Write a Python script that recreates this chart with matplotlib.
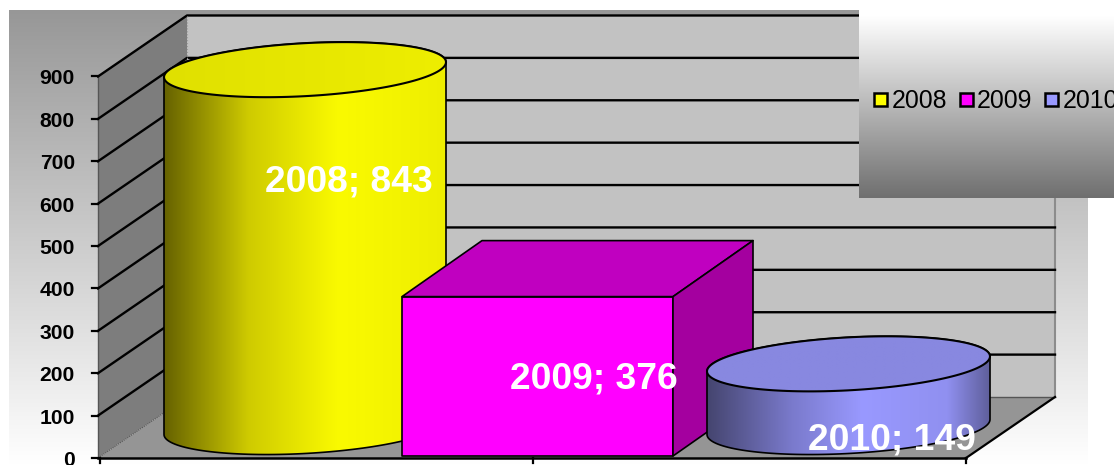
import numpy as np
from matplotlib import pyplot as plt
from matplotlib.colors import LinearSegmentedColormap
from matplotlib.patches import Polygon, Rectangle

years = ['2008', '2009', '2010']
values = [843, 376, 149]
y_ticks = [0, 100, 200, 300, 400, 500, 600, 700, 800, 900]

W, H = 1114, 465
Y0_PX = 458       # pixel row of value 0
PX_PER_UNIT = 0.4239

plt.rcParams['font.family'] = ['Liberation Sans', 'DejaVu Sans']

fig = plt.figure(figsize=(W / 100, H / 100), dpi=100, facecolor='white')
ax = fig.add_axes([0, 0, 1, 1])
ax.axis('off')


def units(px):
    return px / PX_PER_UNIT


def val(py):
    # pixel row -> value, for things placed relative to the picture
    return (Y0_PX - py) / PX_PER_UNIT


def gradient(colors, stops, extent, clip=None, vertical=False, z=1):
    cmap = LinearSegmentedColormap.from_list('g', list(zip(stops, colors)))
    ramp = np.linspace(0, 1, 256)
    ramp = ramp[:, None] if vertical else ramp[None, :]
    im = ax.imshow(ramp, cmap=cmap, vmin=0, vmax=1, extent=extent, aspect='auto',
                   origin='upper' if vertical else 'lower', zorder=z, interpolation='bilinear')
    if clip is not None:
        im.set_clip_path(clip)
    return im


def poly(points, face, edge='none', lw=0.0, z=2):
    p = Polygon(points, closed=True, facecolor=face, edgecolor=edge, linewidth=lw, zorder=z, joinstyle='round')
    ax.add_patch(p)
    return p


def ring(cx, cy, a, b, s, t):
    # sheared ellipse, right end sits higher than the left end
    return cx + a * np.cos(t), cy + units(b) * np.sin(t) + units(s) * np.cos(t)


def cylinder(left, right, base, value, body_colors, body_stops, top_colors, z):
    cx = (left + right) / 2
    a = (right - left) / 2
    b, s = 26.5, 7.5
    low = np.linspace(np.pi, 2 * np.pi, 80)
    up = np.linspace(0, np.pi, 80)
    x1, y1 = ring(cx, base, a, b, s, low)
    x2, y2 = ring(cx, base + value, a, b, s, up)
    body = np.r_[np.c_[x1, y1], np.c_[x2, y2]]
    shape = poly(body, 'none', z=z)
    gradient(body_colors, body_stops, (left, right, base - units(40), base + value + units(40)), clip=shape, z=z)
    poly(body, 'none', edge='black', lw=1.2, z=z + 0.1)
    t = np.linspace(0, 2 * np.pi, 160)
    x3, y3 = ring(cx, base + value, a, b, s, t)
    cap = np.c_[x3, y3]
    shape = poly(cap, 'none', z=z + 0.2)
    gradient(top_colors, [0, 1], (left, right, base + value - units(40), base + value + units(40)), clip=shape, z=z + 0.2)
    poly(cap, 'none', edge='black', lw=1.5, z=z + 0.3)


# chart area background
bg = Rectangle((9, val(465)), 1079, units(455), facecolor='none', edgecolor='none')
ax.add_patch(bg)
gradient(['#979797', '#ffffff'], [0, 1], (9, 1088, val(465), val(10)), clip=bg, vertical=True, z=0)

# walls and floor
LEFT, RIGHT = 98, 966
DX, DY = 89, units(61)
top = max(y_ticks)
poly([(LEFT, 0), (LEFT + DX, DY), (RIGHT + DX, DY), (RIGHT, 0)], '#959595', z=1)
poly([(LEFT + DX, DY), (LEFT + DX, top + DY), (RIGHT + DX, top + DY), (RIGHT + DX, DY)], '#c2c2c2', z=1)
poly([(LEFT, 0), (LEFT, top), (LEFT + DX, top + DY), (LEFT + DX, DY)], '#7d7d7d', z=1)
ax.plot([LEFT, LEFT], [0, top], color='#555555', lw=1.0, zorder=1.2)
ax.plot([LEFT, LEFT + DX], [top, top + DY], color='#555555', lw=0.9, ls=(0, (1, 1)), zorder=1.2)
ax.plot([LEFT, LEFT + DX], [0, DY], color='#555555', lw=0.8, ls=(0, (1, 1)), zorder=1.2)
ax.plot([RIGHT + DX, RIGHT + DX], [DY, top + DY], color='#8c8c8c', lw=1.5, zorder=1.2)
ax.plot([LEFT + DX, RIGHT + DX], [DY, DY], color='#555555', lw=1.0, zorder=1.2)
ax.plot([RIGHT + DX, RIGHT], [DY, 0], color='black', lw=1.6, zorder=1.2)
for v in y_ticks[1:]:
    ax.plot([LEFT, LEFT + DX, RIGHT + DX], [v, v + DY, v + DY], color='black', lw=1.7, zorder=1.3)
ax.plot([LEFT + DX, LEFT + DX], [DY, top + DY], color='#9a9a9a', lw=0.8, ls=':', zorder=1.3)

# axis lines, ticks
ax.plot([LEFT, RIGHT], [0, 0], color='black', lw=1.8, zorder=5)
for x in [LEFT + 2, (LEFT + RIGHT) / 2 + 0.5, RIGHT]:
    ax.plot([x, x], [0, val(463)], color='black', lw=1.6, zorder=5)
for v in y_ticks:
    ax.plot([LEFT - 6, LEFT], [v, v], color='black', lw=1.6, zorder=5)
    ax.text(75, v - units(2.5), str(v), ha='right', va='center', fontsize=15.2, fontweight='bold', color='black', zorder=6)

# 2008 cylinder
base = val(427)
cylinder(164, 446, base, values[0],
         ['#666200', '#cfcb00', '#fafa00', '#eeee00'], [0, 0.3, 0.62, 1],
         ['#e0e000', '#eeee00'], z=2)

# 2009 box
bx0, bx1 = 402, 673
bdx, bdy = 80, units(56)
b0 = val(456)
b1 = b0 + values[1]
edge = dict(edge='black', lw=1.2, z=3)
poly([(bx0, b0), (bx1, b0), (bx1, b1), (bx0, b1)], '#ff00ff', **edge)
poly([(bx0, b1), (bx1, b1), (bx1 + bdx, b1 + bdy), (bx0 + bdx, b1 + bdy)], '#c000c0', **edge)
poly([(bx1, b0), (bx1 + bdx, b0 + bdy), (bx1 + bdx, b1 + bdy), (bx1, b1)], '#a4009f', **edge)

# 2010 cylinder
cylinder(707, 990, base, values[2],
         ['#45456f', '#7a7acc', '#9999ff', '#9090f0', '#5f5f9c'], [0, 0.3, 0.55, 0.85, 1],
         ['#8888e0', '#8888e0'], z=4)

# data labels
label_x = [349, 594, 892]
label_y = [182, 379, 440]
for year, value, lx, ly in zip(years, values, label_x, label_y):
    ax.text(lx, val(ly), f'{year}; {value}', ha='center', va='center', fontsize=26.8,
            fontweight='bold', color='white', zorder=8)

# legend box runs off the right edge of the picture
box = Rectangle((859, val(198)), 255, units(198), facecolor='none', edgecolor='none', zorder=9)
ax.add_patch(box)
gradient(['#ffffff', '#ffffff', '#6f6f6f'], [0, 0.08, 1], (859, 1114, val(198), val(0)), clip=box, vertical=True, z=9)
swatches = ['#ffff00', '#ff00ff', '#9999ff']
for i, (year, color) in enumerate(zip(years, swatches)):
    x = 874 + 85.5 * i
    ax.add_patch(Rectangle((x, val(106.5)), 13, units(13), facecolor=color, edgecolor='black', linewidth=1.8, zorder=10))
    ax.text(x + 17.5, val(101), year, ha='left', va='center', fontsize=17.9, color='black', zorder=10)

ax.set_xlim(0, W)
ax.set_ylim(val(H), val(0))
fig.savefig('out.png', dpi=100)
